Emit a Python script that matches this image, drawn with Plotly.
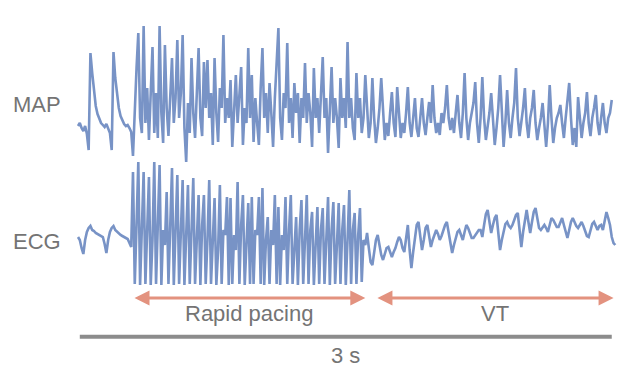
import plotly.graph_objects as go

# ---------------- data ----------------
SAMPLE_INTERVAL_S = 0.01  # seconds between samples

# Monophasic action potential (MAP), arbitrary units (0 = baseline)
map_values = [
    2, 5, 0, -3, 2, -6, -22, 75, 55, 35,
    22, 14, 9, 5, 3, 1, 4, 0, -5, -22,
    76, 50, 32, 20, 12, 7, 4, 2, 3, 0,
    -4,
    -28, 20, 60, 95, 10, -5, 102, 5, 40, -12,
    30, 81, -5, 35, -10, 102, 15, -15, 83, 20,
    -8, 40, 70, 5, 30, 88, 10, 35, 93, 0,
    -34, 25, -5, 70, 15, -10, 40, 80, 10, -8,
    66, 20, 68, 10, 35, -17, 70, 15, -14, 40,
    20, 93, 5, 30, 10, 48, -19, 25, 53, 5,
    30, 61, -17, 20, 5, 80, 10, 53, -14, 30,
    5, -17, 40, 80, 10, 35, -5, 45, 15, -19,
    30, 60, 100, 10, -12, 35, 20, 85, 5, 30,
    -10, 45, 15, 35, -15, 30, 10, 65, 5, 35,
    15, -19, 60, 10, 30, -5, 40, 71, 10, 30,
    -25, 20, 61, 5, 30, 10, -20, 50, 10, 30,
    0, 86, 10, 30, 0, -12, 55, 10, 30, -5,
    10, 53, 15, -10, 5, 50, 10, -15, 0, 20,
    50, 15, -12, 5, -8, 15, 36, 5, -9, 41,
    10, -10, 5, -5, 15, 41, 5, -9, 10, 30,
    0, -9, 10, 30, 5, -7, 10, 26, 5, 43,
    10, -5, 5, -7, 15, 5, 20, 43, 10, -2,
    10, -5, 15, 33, 5, -10, 15, 55, 10, -12,
    5, 15, 25, 46, 5, -15, 10, 51, 10, -12,
    0, 15, 35, 5, -17, 0, 20, 53, 10, -19,
    5, 38, 5, -10, 10, 25, 60, 10, -8, 5,
    20, 40, 5, -10, 10, 20, 38, 5, -12, 0,
    10, 25, 5, -19, 5, 43, 10, -15, 0, 10,
    15, 23, 5, -10, 10, 25, 45, 10, -17, 0,
    -19, 31, 5, -10, 5, 15, 36, 5, -8, 10,
    20, 33, 5, -7, 10, 25, 5, -5, 10, 15,
    28,
]

# Surface ECG, arbitrary units (0 = baseline)
ecg_values = [
    3, 0, -8, -14, 0, 8, 12, 14, 10, 9,
    7, 6, 5, 4, 3, -4, -13, 0, 8, 12,
    14, 10, 8, 6, 5, 4, 3, 2, 1, -3,
    -7,
    68, -44, 15, 78, -45, 5, 68, -44, 20, 63,
    -45, 0, 78, -44, 15, 75, -45, 10, -5, 48,
    -44, 20, 72, -45, 5, 65, -44, 15, 60, -45,
    0, 55, -44, 10, 62, -44, -5, 45, -45, 15,
    45, -44, 0, 60, -44, 10, 42, -45, -10, 55,
    -44, 10, 5, 43, -45, 42, -44, 5, -10, 58,
    -44, 15, 45, -45, 0, 37, -44, 43, -44, 10,
    5, 43, -44, 52, -45, 0, 23, -44, 10, -5,
    45, -44, 33, -45, 5, -10, 43, -44, 10, 45,
    -44, -5, 23, -45, 10, 40, -44, 0, 45, -44,
    10, 28, -45, -5, 33, -44, 10, 32, -44, 0,
    43, -45, 10, 38, -44, -5, 37, -44, 10, 35,
    -45, 0, 50, -44, 10, 27, -44, 5, 32, -42,
    0, -5, 7, -8, -22, -25, -10, 0, 5, -5,
    -15, -20, -14, -8, -7, -12, -17, -12, -8, -2,
    3, 0, -8, -12, 2, 15, -10, -28, -12, 5,
    15, 18, 5, -10, 0, 12, 15, 5, -7, 0,
    6, 10, 6, 0, 4, 10, 15, 18, 8, -5,
    -13, -5, 3, 8, 10, 5, 0, 8, 15, 12,
    6, 2, 2, 5, 8, 10, 10, 3, 15, 26,
    30, 18, 7, 15, 22, 25, 10, -10, 0, 10,
    16, 18, 14, 12, 15, 20, 25, 27, 10, -7,
    8, 22, 30, 18, 7, 18, 28, 32, 22, 12,
    10, 12, 15, 12, 8, 15, 22, 20, 16, 13,
    13, 18, 22, 15, 8, 2, 10, 18, 22, 18,
    14, 12, 15, 18, 14, 8, 4, 3, 10, 16,
    18, 14, 10, 14, 15, 10, 18, 28, 22, 15,
    3, -3, -5,
]

trace_labels = ["MAP", "ECG"]
phase_labels = ["Rapid pacing", "VT"]
pacing_start_s = 0.31
pacing_end_s = 1.62
vt_start_s = 1.68
vt_end_s = 3.02
scale_bar_start_s = 0.01
scale_bar_length_s = 3.0
scale_bar_label = "3 s"

map_time = [i * SAMPLE_INTERVAL_S for i in range(len(map_values))]
ecg_time = [i * SAMPLE_INTERVAL_S for i in range(len(ecg_values))]

# ---------------- styling ----------------
TRACE_COLOR = "#7893c6"
ARROW_COLOR = "#e3927f"
TEXT_COLOR = "#747474"
BAR_COLOR = "#8c8c8c"
FONT = "Liberation Sans, Arial, sans-serif"
TEXT_FONT = dict(size=22, color=TEXT_COLOR, family=FONT)

fig = go.Figure()
fig.add_trace(go.Scatter(x=map_time, y=map_values, mode="lines",
                         line=dict(color=TRACE_COLOR, width=2.6),
                         yaxis="y", hoverinfo="skip", showlegend=False))
fig.add_trace(go.Scatter(x=ecg_time, y=ecg_values, mode="lines",
                         line=dict(color=TRACE_COLOR, width=2.6),
                         yaxis="y2", hoverinfo="skip", showlegend=False))

annotations = [
    dict(text=trace_labels[0], xref="paper", yref="paper", x=0.060, y=0.717,
         xanchor="center", yanchor="middle", showarrow=False, font=TEXT_FONT),
    dict(text=trace_labels[1], xref="paper", yref="paper", x=0.060, y=0.350,
         xanchor="center", yanchor="middle", showarrow=False, font=TEXT_FONT),
    dict(text=phase_labels[0], xref="x", yref="paper",
         x=(pacing_start_s + pacing_end_s) / 2, y=0.156,
         xanchor="center", yanchor="middle", showarrow=False, font=TEXT_FONT),
    dict(text=phase_labels[1], xref="x", yref="paper",
         x=(vt_start_s + vt_end_s) / 2, y=0.156,
         xanchor="center", yanchor="middle", showarrow=False, font=TEXT_FONT),
    dict(text=scale_bar_label, xref="x", yref="paper",
         x=scale_bar_start_s + scale_bar_length_s / 2, y=0.042,
         xanchor="center", yanchor="middle", showarrow=False, font=TEXT_FONT),
]
for a0, a1 in [(pacing_start_s, pacing_end_s), (vt_start_s, vt_end_s)]:
    annotations.append(dict(
        text="", x=a1, y=0.197, xref="x", yref="paper",
        ax=a0, ay=0, axref="x", ayref="pixel",
        showarrow=True, arrowhead=2, arrowside="end+start",
        arrowsize=1.0, arrowwidth=3, arrowcolor=ARROW_COLOR))

fig.update_layout(
    width=624, height=371,
    margin=dict(l=0, r=0, t=0, b=0),
    paper_bgcolor="white", plot_bgcolor="white",
    xaxis=dict(range=[-0.44, 3.079], visible=False),
    yaxis=dict(range=[-243, 128], visible=False),
    yaxis2=dict(range=[-131, 240], visible=False, overlaying="y"),
    annotations=annotations,
    shapes=[dict(type="line", xref="x", yref="paper",
                 x0=scale_bar_start_s, x1=scale_bar_start_s + scale_bar_length_s,
                 y0=0.092, y1=0.092, line=dict(color=BAR_COLOR, width=4))],
)

fig.write_html("out.html",
               config={"displayModeBar": False, "staticPlot": True},
               post_script="document.body.style.margin='0px';")
